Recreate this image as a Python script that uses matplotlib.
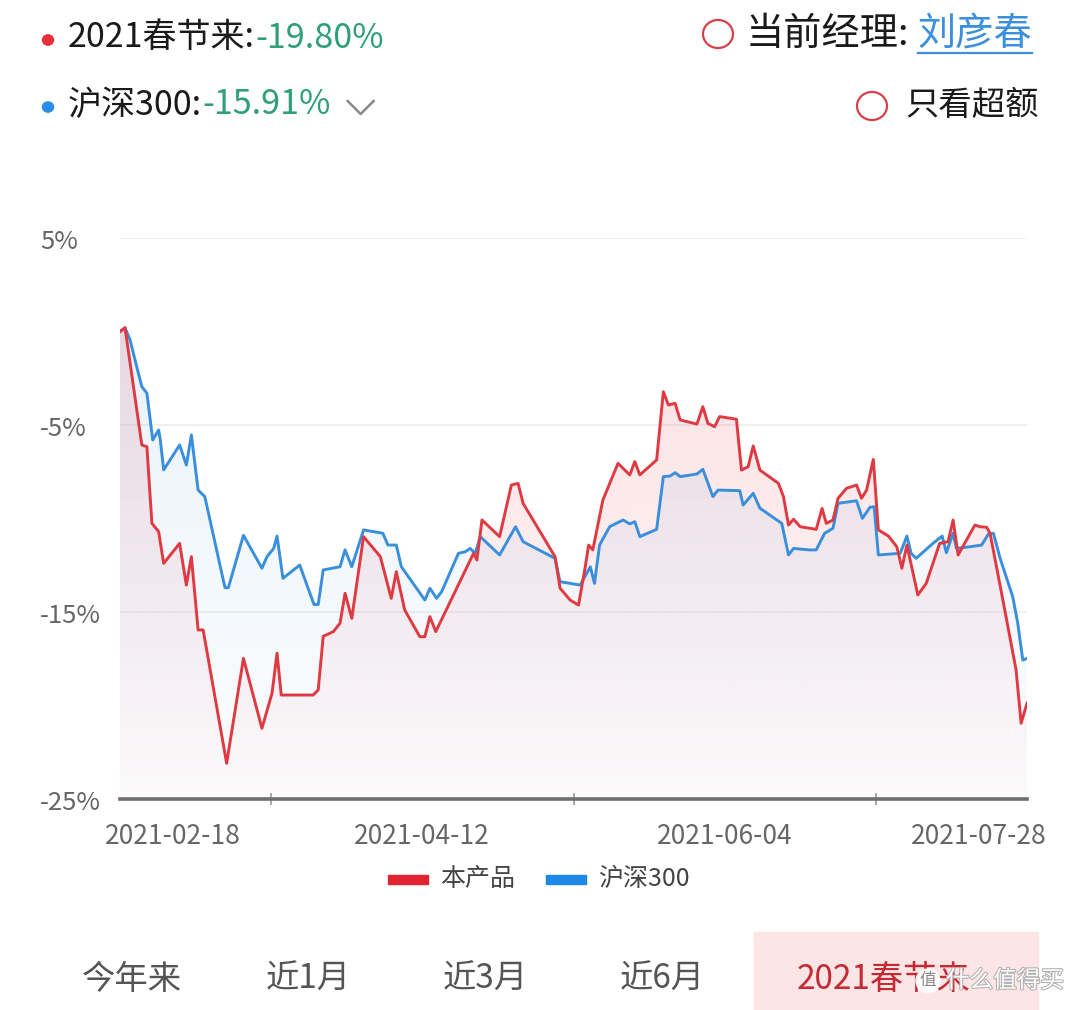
import numpy as np
import matplotlib
matplotlib.use("Agg")
import matplotlib.pyplot as plt
import matplotlib.patheffects as pe
from matplotlib.patches import Polygon, Circle, Rectangle
from matplotlib.lines import Line2D

plt.rcParams['font.family'] = ['Noto Sans CJK SC', 'DejaVu Sans']

# trading-day index (0 = 2021-02-18) and cumulative return in %
fund_x = [0, 0.6, 2.6, 3.2, 3.8, 4.6, 5.2, 7.1, 7.9, 8.5, 9.3, 9.9, 12.7, 14.7, 16.9,
          18.1, 18.7, 19.2, 23.0, 23.6, 24.2, 25.4, 26.2, 26.8, 27.6, 29.0, 31.0, 32.3,
          32.9, 33.9, 35.7, 36.3, 36.9, 37.6, 42.1, 42.5, 43.1, 45.2, 46.6, 47.4, 48.0,
          51.8, 52.4, 53.6, 54.6, 55.4, 55.8, 56.3, 57.5, 59.3, 60.7, 61.3, 61.9, 63.9,
          64.7, 65.3, 66.1, 66.7, 68.7, 69.4, 70.0, 70.8, 71.4, 73.4, 74.0, 74.8, 75.4,
          76.2, 78.4, 79.0, 79.6, 80.2, 81.0, 82.9, 83.6, 84.1, 84.9, 85.5, 86.5, 87.7,
          88.3, 88.9, 89.7, 90.3, 91.5, 92.5, 93.1, 93.7, 95.0, 96.0, 97.6, 98.6, 99.2,
          99.8, 101.8, 102.4, 103.2, 103.6, 105.2, 106.7, 107.3, 108]
fund_y = [0.0, 0.2, -6.07, -6.16, -10.26, -10.7, -12.4, -11.33, -13.56, -12.04, -15.96,
          -15.96, -23.09, -17.48, -21.22, -19.35, -17.2, -19.44, -19.44, -19.17, -16.3,
          -16.05, -15.6, -14.0, -15.34, -10.97, -12.04, -14.27, -12.84, -14.89, -16.32,
          -16.32, -15.25, -16.05, -11.86, -12.22, -10.08, -10.97, -8.21, -8.12, -9.19,
          -12.04, -13.73, -14.36, -14.63, -12.58, -11.42, -11.68, -9.01, -7.05, -7.67,
          -6.96, -7.67, -6.87, -3.22, -3.93, -3.84, -4.73, -4.95, -4.02, -4.91, -5.09,
          -4.55, -4.69, -7.41, -7.23, -6.12, -7.41, -8.12, -8.83, -10.35, -10.04, -10.44,
          -10.58, -9.46, -10.26, -10.08, -8.92, -8.39, -8.21, -8.92, -8.48, -6.84,
          -10.61, -10.94, -11.51, -12.66, -11.42, -14.09, -13.47, -11.33, -11.24, -10.08,
          -11.95, -10.35, -10.44, -10.47, -10.79, -14.53, -18.1, -20.95, -19.88]

hs300_x = [0, 0.6, 1.2, 2.0, 2.6, 3.2, 3.9, 4.6, 4.8, 5.2, 7.1, 7.9, 8.5, 9.3, 10.1,
           12.5, 12.9, 14.7, 16.9, 17.5, 18.3, 18.7, 19.4, 21.4, 23.1, 23.6, 24.2, 26.2,
           26.8, 27.6, 29.0, 31.3, 31.9, 32.9, 33.5, 36.3, 36.9, 37.7, 38.3, 40.3, 41.1,
           41.7, 42.3, 42.9, 45.2, 47.1, 48.0, 51.8, 52.4, 53.6, 54.8, 56.0, 56.5, 57.1,
           58.3, 59.9, 60.7, 61.3, 61.9, 63.9, 64.7, 65.5, 66.1, 66.7, 68.7, 69.4, 70.6,
           71.2, 73.8, 74.2, 75.4, 76.2, 78.8, 79.6, 80.2, 82.1, 82.9, 83.9, 84.9, 85.5,
           87.7, 88.4, 89.3, 89.8, 90.3, 92.9, 93.7, 94.2, 94.8, 96.8, 97.9, 98.4, 99.2,
           99.6, 101.2, 102.6, 103.4, 104.0, 104.8, 106.3, 106.9, 107.5, 108]
hs300_y = [0.0, 0.2, -0.45, -1.9, -2.95, -3.3, -5.8, -5.27, -5.8, -7.4, -6.07, -7.14,
           -5.53, -8.48, -8.83, -13.7, -13.7, -10.9, -12.66, -12.04, -11.6, -10.94,
           -13.2, -12.49, -14.6, -14.6, -12.75, -12.58, -11.68, -12.58, -10.61, -10.79,
           -11.42, -11.42, -12.58, -14.36, -13.73, -14.27, -13.91, -11.86, -11.78, -11.6,
           -11.86, -10.97, -11.95, -10.44, -11.24, -12.13, -13.38, -13.47, -13.56, -12.58,
           -13.47, -11.42, -10.44, -10.08, -10.29, -10.17, -10.97, -10.58, -7.76, -7.73,
           -7.55, -7.76, -7.62, -7.37, -8.83, -8.48, -8.51, -9.28, -8.65, -9.45, -10.26,
           -11.95, -11.6, -11.68, -11.68, -10.79, -10.52, -9.19, -9.05, -9.99, -9.4,
           -9.37, -11.95, -11.86, -10.94, -11.86, -12.13, -11.33, -10.94, -11.83, -10.79,
           -11.6, -11.51, -11.42, -10.83, -10.79, -12.13, -14.18, -15.6, -17.57, -17.48]

date_idx = [0, 36, 72, 108]
date_labels = ["2021-02-18", "2021-04-12", "2021-06-04", "2021-07-28"]
minor_idx = [18, 54, 90]
y_ticks = [5, -5, -15, -25]
y_labels = ["5%", "-5%", "-15%", "-25%"]
tabs = ["今年来", "近1月", "近3月", "近6月", "2021春节来"]

RED = '#df3a42'
BLUE = '#3a8fdc'
GREEN = '#2f9f7a'
GRAY = '#666666'

fig = plt.figure(figsize=(10.8, 10.1), dpi=100)
W, H = 1080, 1010
ax = fig.add_axes([120 / W, 211 / H, 907 / W, 561 / H])
ax.set_xlim(0, 108)
ax.set_ylim(-25, 5)
for s in ax.spines.values():
    s.set_visible(False)
ax.set_xticks([])
ax.set_yticks([])

for v in y_ticks[:-1]:
    ax.axhline(v, color='#eeeeee', lw=1.2, zorder=0)
ax.axhline(-25, color='#6e6e6e', lw=2.6, zorder=5, clip_on=False)


def gradient_area(xs, ys, color, a_top, a_bot):
    verts = [(xs[0], -25)] + list(zip(xs, ys)) + [(xs[-1], -25)]
    poly = Polygon(verts, closed=True, facecolor='none', edgecolor='none')
    ax.add_patch(poly)
    rgb = matplotlib.colors.to_rgb(color)
    n = 256
    img = np.zeros((n, 1, 4))
    img[:, 0, :3] = rgb
    img[:, 0, 3] = np.linspace(a_top, a_bot, n)
    im = ax.imshow(img, extent=[0, 108, -25, 0.5], aspect='auto', origin='upper', zorder=1)
    im.set_clip_path(poly)


gradient_area(fund_x, fund_y, '#f0606a', 0.20, 0.02)
gradient_area(hs300_x, hs300_y, '#6aaee8', 0.15, 0.02)

ax.plot(hs300_x, hs300_y, color=BLUE, lw=2.1, zorder=3, solid_joinstyle='round')
ax.plot(fund_x, fund_y, color=RED, lw=2.1, zorder=4, solid_joinstyle='round')

# x tick marks and date labels
for m in minor_idx:
    ax.plot([m, m], [-25, -25], marker='|', ms=9, mew=1.3, color='#aaaaaa', clip_on=False, zorder=4)
shifts = [(-15, 'left'), (0, 'center'), (0, 'center'), (20, 'right')]
for idx, lab, (dx, ha) in zip(date_idx, date_labels, shifts):
    ax.annotate(lab, xy=(idx, 0), xycoords=('data', 'axes fraction'), xytext=(dx, -37),
                textcoords='offset pixels', ha=ha, va='center', fontsize=19, color=GRAY)
for v, lab in zip(y_ticks, y_labels):
    ax.annotate(lab, xy=(0, v), xycoords=('axes fraction', 'data'), xytext=(-80, -4),
                textcoords='offset pixels', ha='left', va='center', fontsize=18.5, color=GRAY)


# header
def ft(x, y, s, **kw):
    return fig.text(x / W, 1 - y / H, s, va='center', **kw)


def right_edge(t):
    fig.canvas.draw()
    return t.get_window_extent().x1


fig.patches.append(Circle((48 / W, 1 - 40 / H), 5.5 / W, transform=fig.transFigure, color='#e8303a'))
fig.patches.append(Circle((48 / W, 1 - 107 / H), 5.5 / W, transform=fig.transFigure, color='#2b8de8'))
t1 = ft(68, 38, "2021春节来:", fontsize=24.5, color='#1a1a1a')
ft(right_edge(t1), 38, "-19.80%", fontsize=24.5, color=GREEN)
t2 = ft(68, 105, "沪深300:", fontsize=24.5, color='#1a1a1a')
t3 = ft(right_edge(t2), 105, "-15.91%", fontsize=24.5, color=GREEN)
cx = right_edge(t3) + 30
fig.lines.append(Line2D([(cx - 13) / W, cx / W, (cx + 13) / W], [1 - 101 / H, 1 - 114 / H, 1 - 101 / H],
                        transform=fig.transFigure, color='#888888', lw=1.8))

fig.patches.append(Circle((718 / W, 1 - 34 / H), 15 / W, transform=fig.transFigure,
                          fill=False, edgecolor='#d8404a', lw=1.6))
m1 = ft(746, 34, "当前经理:", fontsize=27.5, color='#1a1a1a')
m2 = ft(right_edge(m1) + 8, 34, "刘彦春", fontsize=27.5, color='#3b8fdd')
fig.canvas.draw()
bb2 = m2.get_window_extent()
fig.lines.append(Line2D([bb2.x0 / W, bb2.x1 / W], [1 - 53 / H, 1 - 53 / H],
                        transform=fig.transFigure, color='#3b8fdd', lw=1.6))
fig.patches.append(Circle((872 / W, 1 - 106 / H), 15 / W, transform=fig.transFigure,
                          fill=False, edgecolor='#d8404a', lw=1.6))
ft(905, 105, "只看超额", fontsize=24, color='#1a1a1a')

# legend
fig.patches.append(Rectangle((388 / W, 1 - 884 / H), 40 / W, 9 / H, transform=fig.transFigure, color='#e3232f'))
ft(440, 879, "本产品", fontsize=18, color='#444444')
fig.patches.append(Rectangle((546 / W, 1 - 884 / H), 40 / W, 9 / H, transform=fig.transFigure, color='#1e88e5'))
ft(598, 879, "沪深300", fontsize=18, color='#444444')

# bottom tabs
fig.patches.append(Rectangle((754 / W, 0), 284 / W, 78 / H, transform=fig.transFigure, color='#fde4e5'))
tab_x = [132, 308, 485, 662, 884]
for i, (tx, lab) in enumerate(zip(tab_x, tabs)):
    c = '#c42a33' if i == len(tabs) - 1 else '#555555'
    fig.text(tx / W, 1 - 979 / H, lab, ha='center', va='center', fontsize=24, color=c)

# watermark of the source site
fig.text(928 / W, 1 - 981 / H, "值", ha='center', va='center', fontsize=12, color='#8a8a8a', zorder=6,
         bbox=dict(boxstyle='circle,pad=0.25', fc='white', ec='none', alpha=0.95))
fig.text(946 / W, 1 - 981 / H, "什么值得买", ha='left', va='center', fontsize=17, color='white', zorder=6,
         path_effects=[pe.withStroke(linewidth=1.5, foreground='#b0b0b0')])

fig.savefig("out.png", dpi=100)
